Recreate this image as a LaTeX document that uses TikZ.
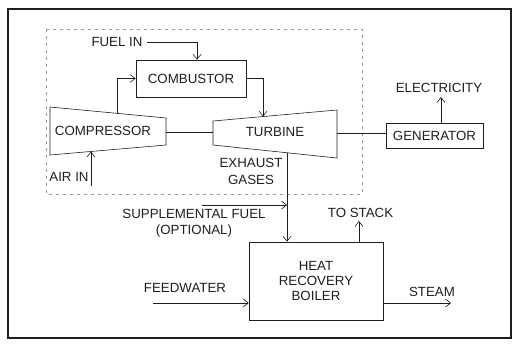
\documentclass[tikz,border=0pt]{standalone}
\usepackage{fontspec}
\setmainfont{Liberation Sans}
\usepackage{tikz}
\usetikzlibrary{arrows.meta,positioning,calc}
\definecolor{plantink}{RGB}{30, 30, 30}
\definecolor{plantgray}{RGB}{150, 150, 150}

\begin{document}
\begin{tikzpicture}[x=1pt, y=-1pt, >={Straight Barb[length=5pt,width=8pt]},
    box/.style={draw=plantink, rectangle, line width=0.6pt, inner sep=0pt},
    lbl/.style={inner sep=0pt, align=center, text=plantink, font=\fontsize{13.3}{16}\selectfont},
    flow/.style={draw=plantink, line width=0.6pt}]
            \useasboundingbox (0,0) rectangle (514,343);
            % Outer frame and gas turbine boundary
            \draw[line width=1.2pt, plantink] (8,9) rectangle (511,338);
            \draw[plantgray, line width=0.5pt, dash pattern=on 3pt off 4pt] (46,29) rectangle (362,194);

            % Boxes
            \node [box, minimum width=110pt, minimum height=37pt] (comb) at (191,78.5) {};
            \node [lbl] at (comb) {COMBUSTOR};
            \node [box, minimum width=97pt, minimum height=25pt] (gen) at (434.5,135.5) {};
            \node [lbl] at (gen) {GENERATOR};
            \node [box, minimum width=134pt, minimum height=78pt] (hrb) at (316,281) {};
            \node [lbl, font=\fontsize{13.3}{15}\selectfont] at (hrb) {HEAT\\RECOVERY\\BOILER};

            % Compressor and turbine
            \draw[flow] (50,107) coordinate (cmpA) -- (166,118) -- (166,145) -- (50,155) coordinate (cmpD) -- cycle;
            \node [lbl] (comp) at (103,131) {COMPRESSOR};
            \draw[flow] (213,121) -- (337,110) coordinate (trbB) -- (337,158) -- (213,145) -- cycle;
            \node [lbl] (turb) at (275,132) {TURBINE};
            \coordinate (cmpTop) at (117,113.4);
            \coordinate (cmpBot) at (91,151.5);
            \coordinate (cmpR) at (166,132);
            \coordinate (trbL) at (213,132);
            \coordinate (trbR) at (337,133);
            \coordinate (trbTop) at (263,116.6);
            \coordinate (trbBot) at (287,152.8);

            % Labels
            \node [lbl] (fuel) at (117,42) {FUEL IN};
            \node [lbl] (elec) at (439,88) {ELECTRICITY};
            \node [lbl] (air) at (69,177) {AIR IN};
            \node [lbl, font=\fontsize{13.3}{17}\selectfont] (exh) at (251,171.5) {EXHAUST\\GASES};
            \node [lbl, font=\fontsize{13.3}{16}\selectfont] (supp) at (194,223) {SUPPLEMENTAL FUEL\\(OPTIONAL)};
            \node [lbl] (stack) at (360.5,213) {TO STACK};
            \node [lbl] (feed) at (185,288) {FEEDWATER};
            \node [lbl] (steam) at (432,292) {STEAM};
            \coordinate (airS) at (91,186);
            \coordinate (suppS) at (202,205);
            \coordinate (feedS) at (153,303);
            \coordinate (steamE) at (451,303);
            \coordinate (stackE) at (359,221);
            \coordinate (elecE) at (441,97);

            % Connectors
            \draw[flow, ->] (fuel.east) ++(4,0) -| ($(comb.north west)!0.555!(comb.north east)$);
            \draw[flow, ->] (cmpTop) |- (comb.west);
            \draw[flow, ->] (comb.east) -| (trbTop);
            \draw[flow, ->] (airS) -- (cmpBot);
            \draw[flow] (cmpR) -- (trbL);
            \draw[flow] (trbR) -- (gen.west |- trbR);
            \draw[flow, ->] (gen.north -| elecE) -- (elecE);
            \draw[flow, ->] (trbBot) -- (trbBot |- hrb.north);
            \draw[flow, ->] (suppS) -- (suppS -| trbBot);
            \draw[flow, ->] (hrb.north -| stackE) -- (stackE);
            \draw[flow, ->] (feedS) -- (feedS -| hrb.west);
            \draw[flow, ->] (hrb.east |- steamE) -- (steamE);
        \end{tikzpicture}
\end{document}
